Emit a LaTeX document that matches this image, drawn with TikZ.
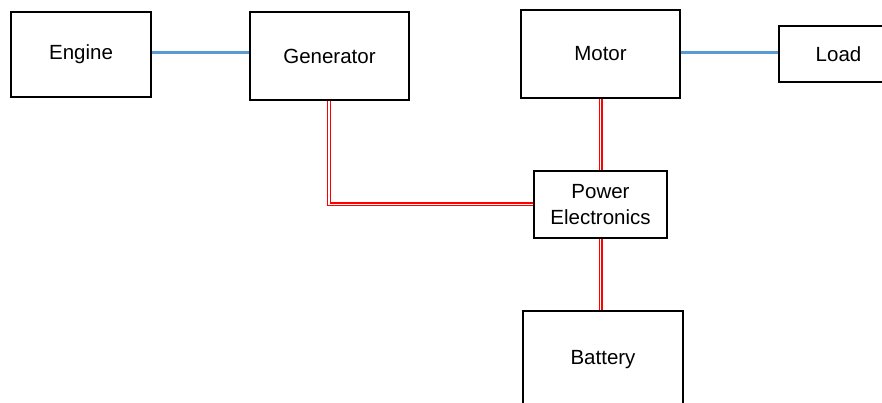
\documentclass[tikz,border=0pt]{standalone}
\usepackage{fontspec}
\setmainfont{Liberation Sans}
\begin{document}
\begin{tikzpicture}[x=1pt,y=-1pt,
  blk/.style={draw=black, line width=1.4pt, fill=white, inner sep=0pt, align=center,
    font=\fontsize{20.5}{26}\selectfont},
  mech/.style={draw={rgb,255:red,91;green,155;blue,213}, line width=3pt},
  elec/.style={draw=white, line width=1.3pt, preaction={draw=red, line width=4pt}}]
\useasboundingbox (0,0) rectangle (882,403);
\clip (0,0) rectangle (882,403);
\node[blk, minimum width=140pt, minimum height=85pt] (engine) at (81,54.5) {Engine};
\node[blk, minimum width=159pt, minimum height=88pt] (gen) at (329.5,56) {Generator};
\node[blk, minimum width=159pt, minimum height=88pt] (motor) at (600.5,54) {Motor};
\node[blk, minimum width=119pt, minimum height=56pt] (load) at (838.5,54) {Load};
\node[blk, minimum width=133pt, minimum height=67pt] (pe) at (600.5,204.5) {Power\\Electronics};
\node[blk, minimum width=160pt, minimum height=98pt] (bat) at (603,360) {Battery};
\draw[mech] (engine.east |- 0,53) -- (gen.west |- 0,53);
\draw[mech] (motor.east |- 0,53) -- (load.west |- 0,53);
\draw[elec] (gen.south -| 329,0) |- (pe.west);
\draw[elec] (motor.south) -- (pe.north);
\draw[elec] (pe.south) -- (pe.south |- bat.north);
\end{tikzpicture}
\end{document}
